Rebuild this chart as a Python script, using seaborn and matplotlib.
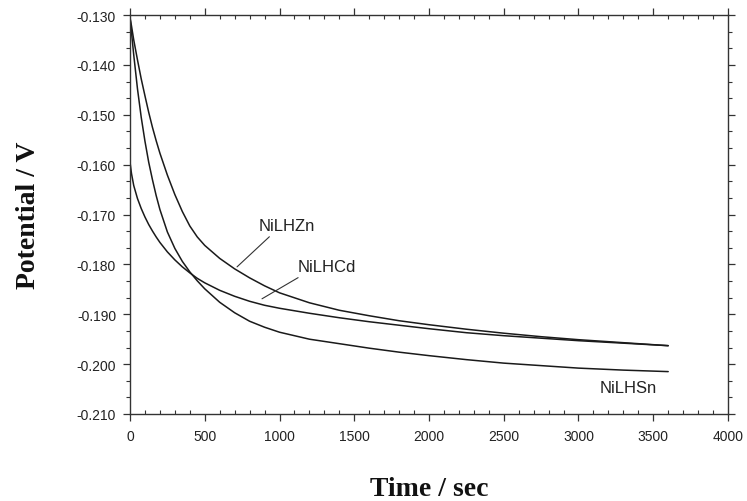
import matplotlib
matplotlib.use("Agg")
import matplotlib.pyplot as plt
import seaborn as sns
import pandas as pd
from matplotlib.ticker import MultipleLocator, FormatStrFormatter

# ---- data ----
time_s = [0, 10, 25, 50, 75, 100, 125, 150, 175, 200, 250, 300, 350, 400,
          450, 500, 600, 700, 800, 900, 1000, 1200, 1400, 1600, 1800, 2000,
          2250, 2500, 2750, 3000, 3300, 3600]
nilhzn = [-0.1305, -0.1322, -0.1350, -0.1390, -0.1428, -0.1462, -0.1495,
          -0.1525, -0.1552, -0.1577, -0.1621, -0.1660, -0.1694, -0.1723,
          -0.1745, -0.1762, -0.1788, -0.1809, -0.1827, -0.1843, -0.1857,
          -0.1877, -0.1892, -0.1903, -0.1913, -0.1921, -0.1930, -0.1938,
          -0.1945, -0.1951, -0.1957, -0.1963]
nilhcd = [-0.1595, -0.1618, -0.1642, -0.1668, -0.1688, -0.1705, -0.1720,
          -0.1733, -0.1745, -0.1756, -0.1775, -0.1791, -0.1805, -0.1817,
          -0.1828, -0.1837, -0.1852, -0.1864, -0.1874, -0.1882, -0.1888,
          -0.1898, -0.1907, -0.1915, -0.1922, -0.1929, -0.1937, -0.1943,
          -0.1948, -0.1953, -0.1958, -0.1963]
nilhsn = [-0.1305, -0.1335, -0.1380, -0.1448, -0.1505, -0.1553, -0.1595,
          -0.1630, -0.1662, -0.1690, -0.1735, -0.1768, -0.1794, -0.1815,
          -0.1833, -0.1849, -0.1876, -0.1897, -0.1914, -0.1926, -0.1936,
          -0.1950, -0.1959, -0.1968, -0.1976, -0.1983, -0.1991, -0.1998,
          -0.2003, -0.2008, -0.2012, -0.2015]
series_names = ["NiLHZn", "NiLHCd", "NiLHSn"]

x_ticks = [0, 500, 1000, 1500, 2000, 2500, 3000, 3500, 4000]
y_ticks = [-0.210, -0.200, -0.190, -0.180, -0.170, -0.160, -0.150, -0.140, -0.130]

# ---- figure ----
sns.set_style("ticks")
plt.rcParams["font.family"] = ["Liberation Sans", "DejaVu Sans"]

fig = plt.figure(figsize=(7.47, 5.02), dpi=100)
ax = fig.add_axes([130 / 747, 1 - 415 / 502, 598 / 747, 399 / 502])

for name, vals in zip(series_names, [nilhzn, nilhcd, nilhsn]):
    df = pd.DataFrame({"t": time_s, "v": vals})
    sns.lineplot(data=df, x="t", y="v", ax=ax, color="#1a1a1a", lw=1.1,
                 estimator=None, sort=False, legend=False)

ax.set_xlim(x_ticks[0], x_ticks[-1])
ax.set_ylim(y_ticks[0], y_ticks[-1])
ax.set_xticks(x_ticks)
ax.set_yticks(y_ticks)
ax.xaxis.set_minor_locator(MultipleLocator(100))
ax.yaxis.set_minor_locator(MultipleLocator(0.01 / 3))
ax.yaxis.set_major_formatter(FormatStrFormatter("%.3f"))

for s in ax.spines.values():
    s.set_visible(True)
    s.set_color("#333333")
    s.set_linewidth(1.0)

ax.tick_params(which="major", direction="out", length=5, width=0.9,
               colors="#333333", labelsize=10, labelcolor="#222222",
               top=True, right=True, labeltop=False, labelright=False)
ax.tick_params(which="minor", direction="out", length=3, width=0.8,
               colors="#333333", top=True, right=True)
ax.tick_params(axis="x", which="minor", direction="in")
ax.tick_params(axis="x", which="major", pad=6)
ax.tick_params(axis="y", which="major", pad=5)

ax.set_xlabel("Time / sec", fontsize=20, fontweight="bold",
              family=["Liberation Serif", "DejaVu Serif"], color="#111111")
ax.set_ylabel("Potential / V", fontsize=20, fontweight="bold",
              family=["Liberation Serif", "DejaVu Serif"], color="#111111")
ax.xaxis.set_label_coords(0.5, -0.155)
ax.yaxis.set_label_coords(-0.148, 0.5)

# curve labels with leader lines
ax.annotate("NiLHZn", xy=(716, -0.1805), xytext=(1050, -0.1723),
            fontsize=12, ha="center", va="center", color="#222222",
            arrowprops=dict(arrowstyle="-", lw=0.8, color="#333333",
                            shrinkA=0, shrinkB=0, relpos=(0.25, 0.0)))
ax.annotate("NiLHCd", xy=(883, -0.1869), xytext=(1318, -0.1805),
            fontsize=12, ha="center", va="center", color="#222222",
            arrowprops=dict(arrowstyle="-", lw=0.8, color="#333333",
                            shrinkA=0, shrinkB=0, relpos=(0.1, 0.0)))
ax.text(3331, -0.2047, "NiLHSn", fontsize=12, ha="center", va="center",
        color="#222222")

fig.savefig("out.png", dpi=100)
